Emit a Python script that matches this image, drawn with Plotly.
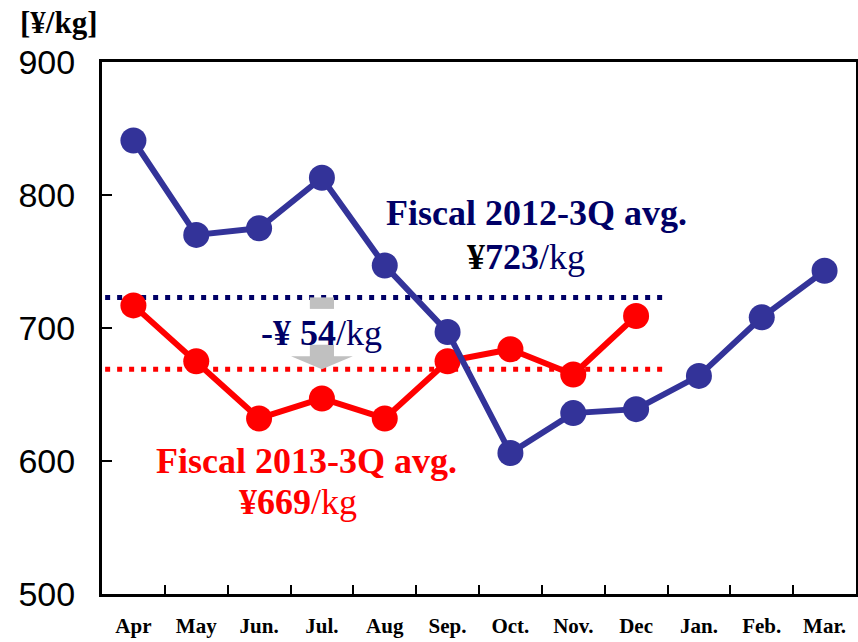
import plotly.graph_objects as go

# Monthly unit price, yen per kg
months = ["Apr", "May", "Jun.", "Jul.", "Aug", "Sep.", "Oct.", "Nov.",
          "Dec", "Jan.", "Feb.", "Mar."]
fy2012 = [841, 770, 775, 813, 747, 697, 606, 636, 639, 664, 708, 743]
fy2013 = [717, 675, 632, 647, 632, 675, 684, 665, 709]

avg2012 = 723
avg2013 = 669
diff = avg2013 - avg2012

y_ticks = [500, 600, 700, 800, 900]

BLUE = "#333399"
NAVY = "#000066"
RED = "#ff0000"
GRAY = "#c0c0c0"
SERIF = "Liberation Serif"

fig = go.Figure()

fig.add_trace(go.Scatter(
    x=months[:len(fy2013)], y=fy2013, mode="lines+markers",
    line=dict(color=RED, width=6), marker=dict(color=RED, size=26),
    showlegend=False, hoverinfo="skip"))

fig.add_trace(go.Scatter(
    x=months, y=fy2012, mode="lines+markers",
    line=dict(color=BLUE, width=6), marker=dict(color=BLUE, size=26),
    showlegend=False, hoverinfo="skip"))

# Average lines over the first three quarters
avg_end = len(fy2013) - 1 + 0.48
shapes = []
for val, col in [(avg2012, NAVY), (avg2013, RED)]:
    shapes.append(dict(type="line", xref="x", yref="y", x0=-0.45, x1=avg_end,
                       y0=val, y1=val, layer="below",
                       line=dict(color=col, width=5, dash="5px,7px")))

# Down arrow between the two averages, centred on Jul.
ci = months.index("Jul.")
cx = (ci + 0.5) / len(months)
span = avg2012 - avg2013
stub_hw = 0.016
head_hw = 0.041
stub_bot = avg2012 - 0.16 * span
rect_top = avg2012 - 0.66 * span
rect_bot = avg2012 - 0.82 * span
shapes.append(dict(type="rect", xref="paper", yref="y",
                   x0=cx - stub_hw, x1=cx + stub_hw, y0=stub_bot, y1=avg2012,
                   fillcolor=GRAY, line=dict(width=0)))
shapes.append(dict(type="path", xref="paper", yref="y",
                   path=(f"M {cx - stub_hw} {rect_top} L {cx + stub_hw} {rect_top} "
                         f"L {cx + stub_hw} {rect_bot} L {cx + head_hw} {rect_bot} "
                         f"L {cx} {avg2013} L {cx - head_hw} {rect_bot} "
                         f"L {cx - stub_hw} {rect_bot} Z"),
                   fillcolor=GRAY, line=dict(width=0)))

annotations = [
    dict(text="<b>[¥/kg]</b>", xref="paper", yref="paper", x=-0.057, y=1.075,
         xanchor="center", yanchor="middle", showarrow=False,
         font=dict(family=SERIF, size=31, color="black")),
    dict(text="<b>Fiscal 2012-3Q avg.</b>", xref="paper", yref="paper",
         x=0.5756, y=0.716, xanchor="center", yanchor="middle", showarrow=False,
         font=dict(family=SERIF, size=36, color=NAVY)),
    dict(text=f"<b><span style='color:black'>¥</span>{avg2012}</b>/kg",
         xref="paper", yref="paper", x=0.5623, y=0.634,
         xanchor="center", yanchor="middle", showarrow=False,
         font=dict(family=SERIF, size=36, color=NAVY)),
    dict(text="<b>Fiscal 2013-3Q avg.</b>", xref="paper", yref="paper",
         x=0.2706, y=0.25, xanchor="center", yanchor="middle", showarrow=False,
         font=dict(family=SERIF, size=36, color=RED)),
    dict(text=f"<b>¥{avg2013}</b>/kg", xref="paper", yref="paper",
         x=0.26, y=0.172, xanchor="center", yanchor="middle", showarrow=False,
         font=dict(family=SERIF, size=36, color=RED)),
    dict(text=f"<b>-¥ {abs(diff)}</b>/kg", xref="paper", yref="y",
         x=cx, y=(avg2012 + avg2013) / 2, xanchor="center", yanchor="middle",
         showarrow=False, font=dict(family=SERIF, size=36, color=NAVY)),
]

fig.update_layout(
    width=858, height=642,
    margin=dict(l=102, r=2, t=62, b=48),
    paper_bgcolor="white", plot_bgcolor="white",
    shapes=shapes, annotations=annotations,
    xaxis=dict(type="category", categoryorder="array", categoryarray=months,
               range=[-0.5, len(months) - 0.5], automargin=False,
               tickson="boundaries", ticks="inside", ticklen=9, tickwidth=2,
               tickcolor="black", showgrid=False, zeroline=False,
               showline=True, linecolor="black", linewidth=3, mirror=True,
               ticklabelstandoff=11,
               tickfont=dict(family=SERIF, size=21, color="black", weight="bold")),
    yaxis=dict(range=[y_ticks[0], y_ticks[-1]], tickvals=y_ticks,
               automargin=False,
               ticks="inside", ticklen=10, tickwidth=2, tickcolor="black",
               showgrid=False, zeroline=False,
               showline=True, linecolor="black", linewidth=3, mirror=True,
               ticklabelstandoff=17,
               tickfont=dict(family="Liberation Sans", size=34, color="black")),
)

fig.write_html("out.html")
